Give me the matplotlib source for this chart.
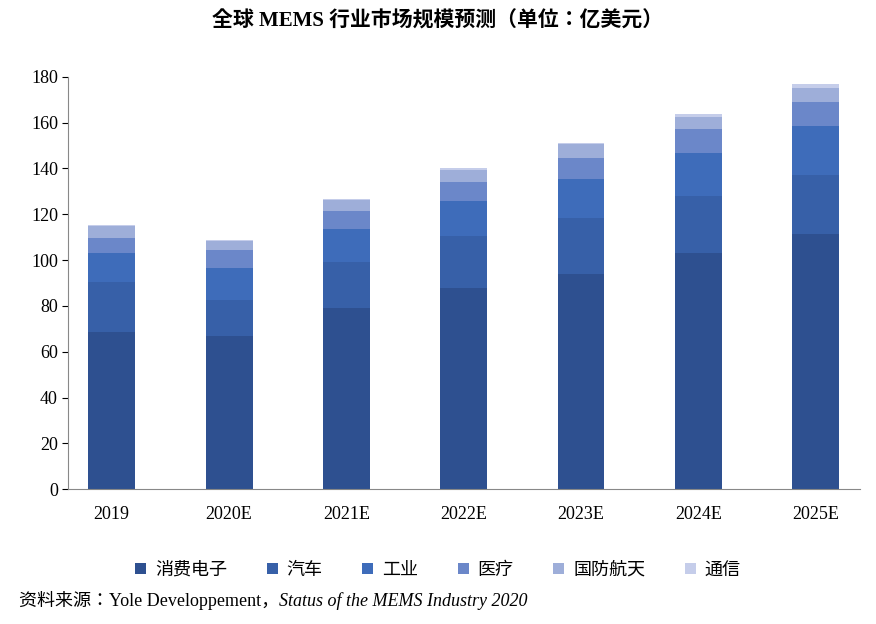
import matplotlib
matplotlib.use("Agg")
import matplotlib.pyplot as plt
from matplotlib import font_manager as fm
import numpy as np

years = ["2019", "2020E", "2021E", "2022E", "2023E", "2024E", "2025E"]
series_names = ["消费电子", "汽车", "工业", "医疗", "国防航天", "通信"]
consumer = [68.7, 67.0, 78.9, 87.6, 93.9, 103.1, 111.3]
auto = [21.7, 15.7, 20.4, 22.7, 24.4, 25.0, 25.9]
industrial = [12.7, 14.0, 14.3, 15.5, 17.1, 18.8, 21.2]
medical = [6.6, 7.7, 7.9, 8.3, 9.2, 10.2, 10.7]
defense = [5.0, 4.1, 4.6, 5.3, 6.0, 5.4, 6.1]
telecom = [0.6, 0.4, 0.6, 0.6, 0.7, 1.3, 1.7]
yticks = [0, 20, 40, 60, 80, 100, 120, 140, 160, 180]

colors = ["#2E5090", "#3760A8", "#3E6CBA", "#6B87C9", "#9EAED9", "#C5CDEA"]
serif = "Liberation Serif"

# locate a CJK font robustly
cjk = None
names = {f.name for f in fm.fontManager.ttflist}
for cand in ["Noto Sans CJK SC", "Noto Serif CJK SC", "Noto Sans CJK JP", "Noto Sans CJK TC", "Noto Sans CJK KR"]:
    if cand in names:
        cjk = cand
        break
if cjk is None:
    for f in fm.findSystemFonts():
        if "CJK" in f or "cjk" in f:
            try:
                fm.fontManager.addfont(f)
                cjk = fm.FontProperties(fname=f).get_name()
                break
            except Exception:
                pass
if cjk is None:
    cjk = "DejaVu Sans"
plt.rcParams["font.family"] = [serif, cjk]

fig = plt.figure(figsize=(8.76, 6.24), dpi=100)
ax = fig.add_axes([0.078, 0.216, 0.904, 0.661])
x = np.arange(len(years))
bottom = np.zeros(len(years))
for name, vals, c in zip(series_names, [consumer, auto, industrial, medical, defense, telecom], colors):
    ax.bar(x, vals, 0.4, bottom=bottom, color=c, label=name)
    bottom += np.array(vals)

ax.set_ylim(0, 180)
ax.set_xlim(-0.37, 6.38)
ax.set_yticks(yticks)
ax.set_xticks(x)
ax.set_xticklabels(years)
for lab in ax.get_xticklabels() + ax.get_yticklabels():
    lab.set_fontsize(13)
ax.tick_params(axis="x", length=0, pad=12)
ax.tick_params(axis="y", direction="out", length=4)
ax.spines["top"].set_visible(False)
ax.spines["right"].set_visible(False)
ax.spines["left"].set_color("#888888")
ax.spines["bottom"].set_color("#888888")

fig.text(0.5, 0.965, "全球 MEMS 行业市场规模预测（单位：亿美元）", ha="center", va="center",
         fontsize=15, fontweight="bold", fontfamily=[serif, cjk])

leg = fig.legend(loc="center", bbox_to_anchor=(0.5, 0.087), ncol=6, frameon=False,
                 prop={"family": cjk, "size": 13}, handlelength=0.6, handleheight=0.6,
                 columnspacing=2.2, handletextpad=0.5)

t1 = fig.text(0.022, 0.022, "资料来源：Yole Developpement，", fontsize=13,
              fontfamily=[serif, cjk], va="bottom")
fig.canvas.draw()
bb = t1.get_window_extent()
fig.text(bb.x1 / fig.bbox.width, 0.022, "Status of the MEMS Industry 2020", fontsize=13,
         fontfamily=serif, style="italic", va="bottom")

fig.savefig("out.png", dpi=100)
